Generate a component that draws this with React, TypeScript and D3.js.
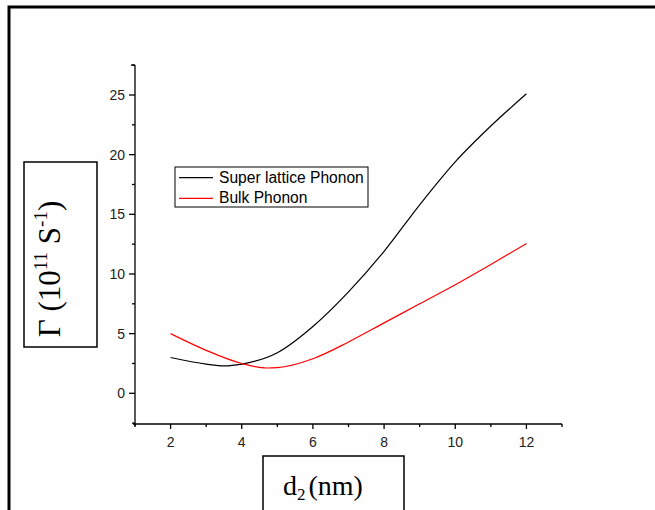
import React from "react";
import * as d3 from "d3";

const xTicks = [2, 4, 6, 8, 10, 12];
const yTicks = [0, 5, 10, 15, 20, 25];
const superX = [2, 3, 3.5, 4, 5, 6, 7, 8, 9, 10, 11, 12];
const superY = [3.0, 2.45, 2.3, 2.45, 3.4, 5.6, 8.5, 11.9, 15.8, 19.4, 22.4, 25.1];
const bulkX = [2, 3, 4, 4.7, 5, 6, 7, 8, 9, 10, 11, 12];
const bulkY = [5.0, 3.6, 2.5, 2.12, 2.15, 2.9, 4.3, 5.9, 7.5, 9.1, 10.8, 12.55];
const seriesNames = ["Super lattice Phonon", "Bulk Phonon"];
const seriesColors = ["#000000", "#ff0000"];

export default function App() {
  const W = 655, H = 510;
  const x = d3.scaleLinear().domain([1, 13]).range([135, 562]);
  const y = d3.scaleLinear().domain([0, 25]).range([393.3, 95]);
  const yBottom = 424, yTop = 65;
  const line = d3
    .line<[number, number]>()
    .x((d) => x(d[0]))
    .y((d) => y(d[1]))
    .curve(d3.curveMonotoneX);
  const s1 = superX.map((v, i) => [v, superY[i]] as [number, number]);
  const s2 = bulkX.map((v, i) => [v, bulkY[i]] as [number, number]);
  const xMinor = d3.range(1, 14, 2);
  const yMinor = d3.range(-2.5, 27.6, 5);
  const font = "Liberation Sans, Arial, sans-serif";
  const serif = "Liberation Serif, Times New Roman, serif";
  return (
    <svg width={W} height={H} style={{ position: "absolute", left: 0, top: 0 }}>
      <rect width={W} height={H} fill="#fff" />
      <path d={`M9,${H} L9,7 L${W},7`} fill="none" stroke="#000" strokeWidth={3} />
      {/* axes */}
      <line x1={133} x2={562} y1={yBottom} y2={yBottom} stroke="#000" strokeWidth={1.3} />
      <line x1={135} x2={135} y1={yTop} y2={yBottom + 2} stroke="#000" strokeWidth={1.3} />
      <line x1={131} x2={135} y1={yTop} y2={yTop} stroke="#000" strokeWidth={1.3} />
      {xTicks.map((t) => (
        <g key={"xt" + t}>
          <line x1={x(t)} x2={x(t)} y1={yBottom} y2={yBottom + 5} stroke="#000" strokeWidth={1.3} />
          <text x={x(t)} y={yBottom + 23} fontSize={14} fontFamily={font} textAnchor="middle" fill="#222">
            {t}
          </text>
        </g>
      ))}
      {xMinor.map((t) => (
        <line key={"xm" + t} x1={x(t)} x2={x(t)} y1={yBottom} y2={yBottom + 3} stroke="#000" strokeWidth={1.3} />
      ))}
      {yTicks.map((t) => (
        <g key={"yt" + t}>
          <line x1={129} x2={135} y1={y(t)} y2={y(t)} stroke="#000" strokeWidth={1.3} />
          <text x={125} y={y(t) + 5} fontSize={14} fontFamily={font} textAnchor="end" fill="#222">
            {t}
          </text>
        </g>
      ))}
      {yMinor.map((t) => (
        <line key={"ym" + t} x1={132} x2={135} y1={y(t)} y2={y(t)} stroke="#000" strokeWidth={1.3} />
      ))}
      {/* curves */}
      <path d={line(s1) || ""} fill="none" stroke={seriesColors[0]} strokeWidth={1.2} />
      <path d={line(s2) || ""} fill="none" stroke={seriesColors[1]} strokeWidth={1.2} />
      {/* legend */}
      <rect x={175} y={167} width={193} height={40} fill="#fff" stroke="#000" strokeWidth={1} />
      {seriesNames.map((n, i) => (
        <g key={n}>
          <line x1={179} x2={213} y1={177.7 + i * 20.7} y2={177.7 + i * 20.7} stroke={seriesColors[i]} strokeWidth={1.2} />
          <text x={219} y={182.5 + i * 20.8} fontSize={15.6} fontFamily={font} fill="#000">
            {n}
          </text>
        </g>
      ))}
      {/* y label box */}
      <rect x={24} y={162} width={73} height={185} fill="none" stroke="#000" strokeWidth={1.5} />
      <text
        transform={`translate(60,${269}) rotate(-90)`}
        textAnchor="middle"
        fontSize={31}
        fontFamily={serif}
        fill="#000"
      >
        Γ (10<tspan fontSize={19} dy={-13}>11</tspan>
        <tspan dy={13}> S</tspan>
        <tspan fontSize={19} dy={-13}>-1</tspan>
        <tspan dy={13}>)</tspan>
      </text>
      {/* x label box */}
      <rect x={263} y={456} width={141} height={70} fill="none" stroke="#000" strokeWidth={1.5} />
      <text x={283} y={495} fontSize={28} fontFamily={serif} fill="#000">
        d<tspan fontSize={17} dy={5}>2</tspan>
        <tspan dy={-5} dx={3}>(nm)</tspan>
      </text>
    </svg>
  );
}
